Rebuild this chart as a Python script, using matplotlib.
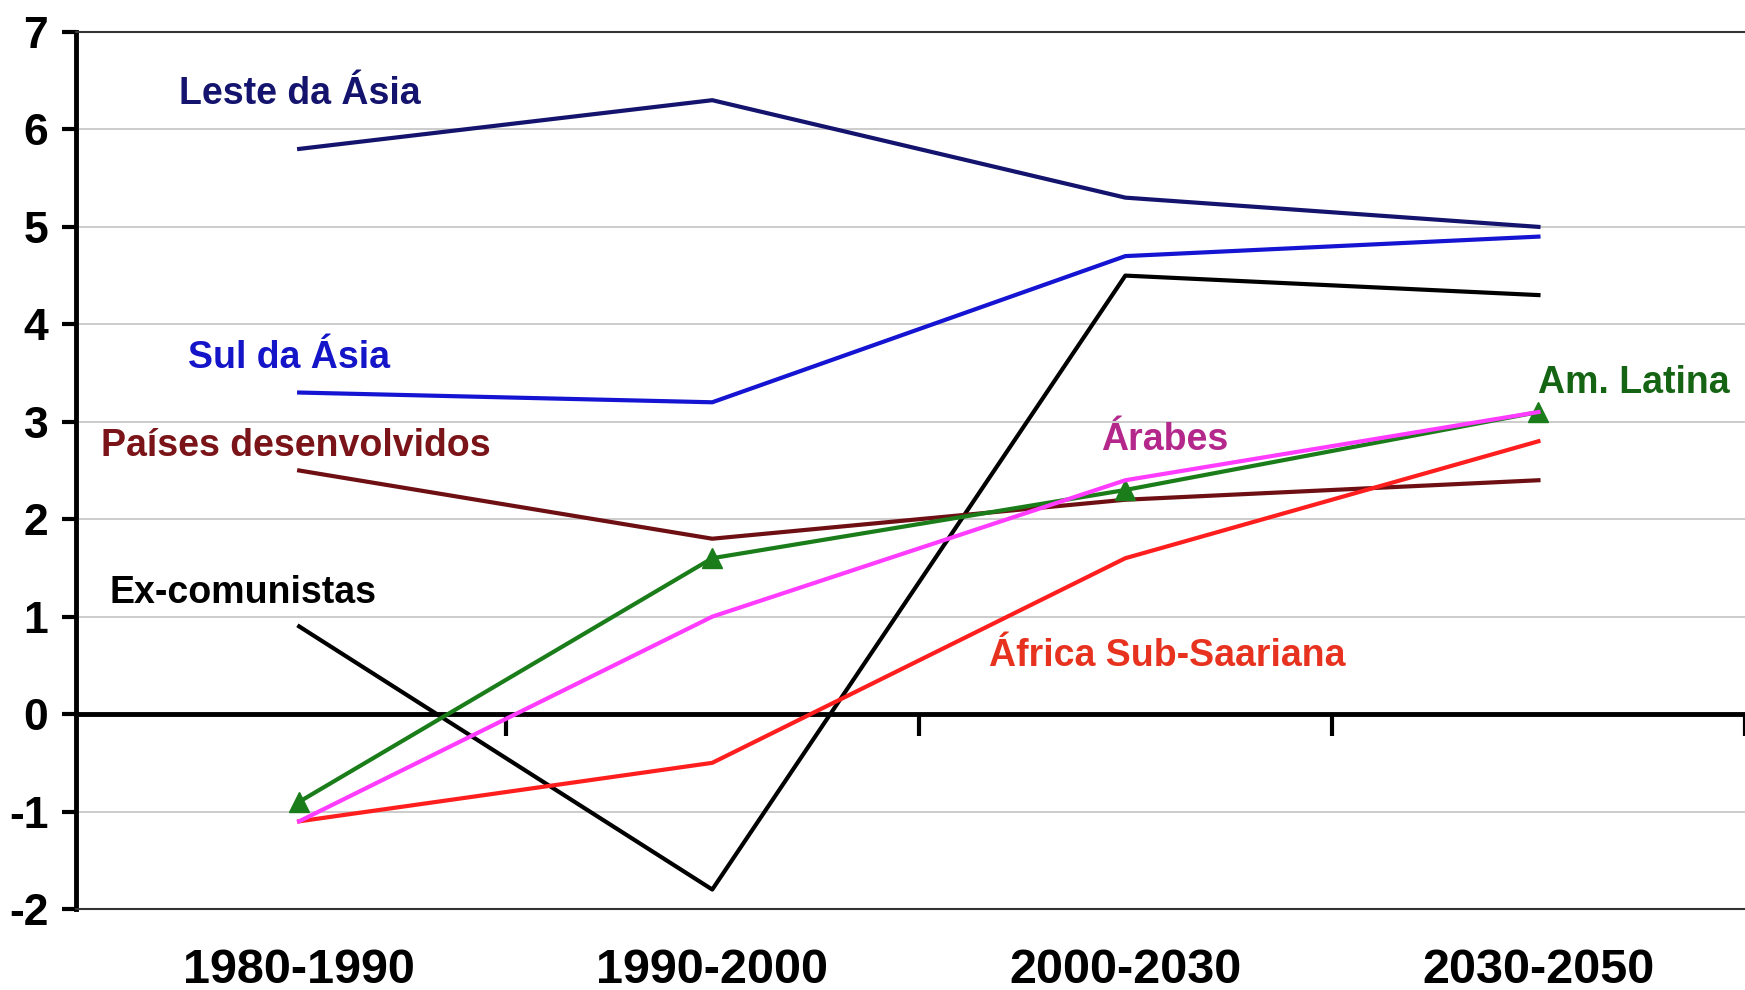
import matplotlib
matplotlib.use('Agg')
import matplotlib.pyplot as plt

periods = ['1980-1990', '1990-2000', '2000-2030', '2030-2050']
leste_asia = [5.8, 6.3, 5.3, 5.0]
sul_asia = [3.3, 3.2, 4.7, 4.9]
ex_comunistas = [0.9, -1.8, 4.5, 4.3]
desenvolvidos = [2.5, 1.8, 2.2, 2.4]
am_latina = [-0.9, 1.6, 2.3, 3.1]
arabes = [-1.1, 1.0, 2.4, 3.1]
africa = [-1.1, -0.5, 1.6, 2.8]

plt.rcParams['font.family'] = ['Liberation Sans', 'DejaVu Sans']
plt.rcParams['font.weight'] = 'bold'
plt.rcParams['axes.unicode_minus'] = False

fig = plt.figure(figsize=(17.45, 9.9), dpi=100)
ax = fig.add_axes([0.0436, 0.0818, 0.9564, 0.8859])
x = list(range(len(periods)))

ax.plot(x, leste_asia, color='#14146e', lw=3)
ax.plot(x, sul_asia, color='#1414d2', lw=3)
ax.plot(x, ex_comunistas, color='black', lw=3)
ax.plot(x, desenvolvidos, color='#6e0f14', lw=3)
ax.plot(x, africa, color='#ff1e1e', lw=3)
ax.plot(x, am_latina, color='#1a7d1a', lw=3, marker='^', ms=15)
ax.plot(x, arabes, color='#ff3cff', lw=3)

# labels next to the lines
fs = 27
ax.text(-0.29, 6.36, 'Leste da Ásia', color='#14146e', fontsize=fs, va='center')
ax.text(-0.27, 3.65, 'Sul da Ásia', color='#1414c8', fontsize=fs, va='center')
ax.text(-0.48, 2.75, 'Países desenvolvidos', color='#7a1418', fontsize=fs, va='center')
ax.text(-0.46, 1.24, 'Ex-comunistas', color='black', fontsize=fs, va='center')
ax.text(1.94, 2.81, 'Árabes', color='#b4288c', fontsize=fs, va='center')
ax.text(3.0, 3.40, 'Am. Latina', color='#146414', fontsize=fs, va='center')
ax.text(1.67, 0.60, 'África Sub-Saariana', color='#e6321e', fontsize=fs, va='center')

ymin, ymax = -2, 7
ax.set_ylim(ymin, ymax)
ax.set_xlim(-0.54, 3.5)
ax.set_yticks(range(-2, 8))
ax.set_xticks(x)
ax.set_xticklabels(periods)
ax.tick_params(axis='y', direction='out', length=10, width=3, labelsize=32, pad=10)
ax.tick_params(axis='x', length=0, labelsize=35, pad=28)
for t in ax.get_yticklabels() + ax.get_xticklabels():
    t.set_fontweight('bold')

ax.yaxis.grid(True, color='#c8c8c8', lw=1.3)
ax.set_axisbelow(True)
ax.axhline(0, color='black', lw=3.5, zorder=1.5)
ax.spines['left'].set_linewidth(3.5)
ax.spines['top'].set_linewidth(1.5)
ax.spines['top'].set_color('#333333')
ax.spines['bottom'].set_linewidth(1.5)
ax.spines['bottom'].set_color('#333333')
ax.spines['right'].set_visible(False)

# category boundary ticks on the zero axis
sec = ax.secondary_xaxis((0 - ymin) / (ymax - ymin))
sec.set_xticks([i + 0.5 for i in x])
sec.set_xticklabels([])
sec.spines['bottom'].set_visible(False)
sec.tick_params(direction='out', length=16, width=3)

fig.savefig('out.png')
plt.close()
